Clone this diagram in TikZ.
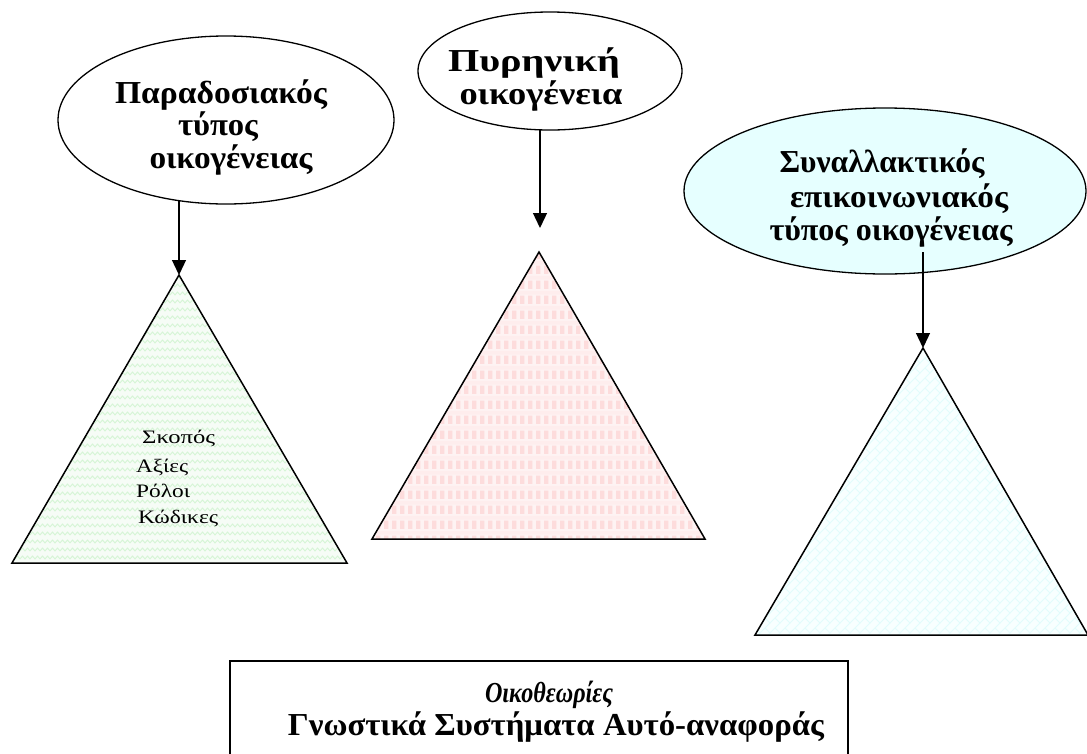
\documentclass[tikz,border=0pt]{standalone}
\usepackage{fontspec}
\usepackage{graphicx}
\setmainfont{Liberation Serif}
\usetikzlibrary{arrows.meta,patterns.meta}
\definecolor{trigreen}{HTML}{F6FCF6}
\definecolor{wavegreen}{HTML}{D6F5D6}
\definecolor{tripink}{HTML}{FEF3F3}
\definecolor{blockpink}{HTML}{FDDCDC}
\definecolor{tricyan}{HTML}{F8FFFF}
\definecolor{brickcyan}{HTML}{E2FCFC}
\definecolor{ellcyan}{HTML}{E6FFFF}
\newcommand{\fitw}[2]{\resizebox{#1pt}{\height}{#2}}
\tikzdeclarepattern{
  name=greenwave, type=colored,
  bottom left={(-1pt,-1pt)}, top right={(11pt,9pt)},
  tile size={(10pt,8pt)},
  code={
    \draw[wavegreen, line width=0.9pt] (0pt,2pt) -- (2.5pt,5pt) -- (5pt,2pt) -- (7.5pt,5pt) -- (10pt,2pt);
  }
}
\tikzdeclarepattern{
  name=pinkblocks, type=colored,
  bottom left={(0pt,0pt)}, top right={(8pt,15pt)},
  tile size={(8pt,15pt)},
  code={
    \fill[blockpink] (0pt,0pt) rectangle (5pt,9pt);
    \fill[blockpink!50] (0pt,10pt) rectangle (8pt,14pt);
  }
}
\tikzdeclarepattern{
  name=cyanbrick, type=colored,
  bottom left={(-1pt,-1pt)}, top right={(11pt,11pt)},
  tile size={(10pt,10pt)},
  code={
    \draw[brickcyan, line width=0.8pt] (0pt,0pt) -- (10pt,10pt);
    \draw[brickcyan, line width=0.8pt] (5pt,5pt) -- (10pt,0pt);
  }
}
\tikzset{
  oval/.style={draw=black, line width=1.3pt},
  tri/.style={draw=black, line width=1.5pt, line join=miter},
  conn/.style={draw=black, line width=1.3pt, -{Triangle[length=15pt,width=14pt]}},
  headA/.style={font=\fontsize{32}{32}\selectfont\bfseries, inner sep=0pt, anchor=base},
  headB/.style={font=\fontsize{32}{32}\selectfont\bfseries, inner sep=0pt, anchor=base},
  headC/.style={font=\fontsize{32}{32}\selectfont\bfseries, inner sep=0pt, anchor=base},
  small/.style={font=\fontsize{19}{19}\selectfont, inner sep=0pt, anchor=base west},
  footA/.style={font=\fontsize{29}{29}\selectfont\bfseries\itshape, inner sep=0pt, anchor=base},
  footB/.style={font=\fontsize{32}{32}\selectfont\bfseries, inner sep=0pt, anchor=base}
}
\begin{document}
\begin{tikzpicture}[x=1pt,y=-1pt]
\useasboundingbox (0,0) rectangle (1087,753);
\clip (0,0) rectangle (1087,753);
% ellipses
\draw[oval, fill=white] (226,120) ellipse [x radius=168, y radius=84];
\node[headA] (e1a) at (221,103) {\fitw{212}{Παραδοσιακός}};
\node[headA] (e1b) at (218,135) {\fitw{80}{τύπος}};
\node[headA] (e1c) at (231,168) {\fitw{163}{οικογένειας}};
\draw[oval, fill=white] (550,71) ellipse [x radius=132, y radius=59];
\node[headB] (e2a) at (534,71) {\fitw{172}{Πυρηνική}};
\node[headB] (e2b) at (541,104) {\fitw{163}{οικογένεια}};
\draw[oval, fill=ellcyan] (885,191) ellipse [x radius=201, y radius=83];
\node[headC] (e3a) at (882,172) {\fitw{205}{Συναλλακτικός}};
\node[headC] (e3b) at (899,207) {\fitw{218}{επικοινωνιακός}};
\node[headC] (e3c) at (891,240) {\fitw{243}{τύπος οικογένειας}};
% triangle apices and connector ends
\coordinate (t1a) at (179,275);
\coordinate (t2a) at (539,252);
\coordinate (t3a) at (923,348);
\coordinate (e1bot) at (179,201);
\coordinate (e2bot) at (540,130);
\coordinate (e3in) at (923,252);
\coordinate (a2end) at (540,228);
% triangles
\path[fill=trigreen] (t1a) -- (347,563) -- (12,563) -- cycle;
\path[pattern=greenwave] (t1a) -- (347,563) -- (12,563) -- cycle;
\draw[tri] (t1a) -- (347,563) -- (12,563) -- cycle;
\path[fill=tripink] (t2a) -- (705,539) -- (372,539) -- cycle;
\path[pattern=pinkblocks] (t2a) -- (705,539) -- (372,539) -- cycle;
\draw[tri] (t2a) -- (705,539) -- (372,539) -- cycle;
\path[fill=tricyan] (t3a) -- (1088,635) -- (755,635) -- cycle;
\path[pattern=cyanbrick] (t3a) -- (1088,635) -- (755,635) -- cycle;
\draw[tri] (t3a) -- (1088,635) -- (755,635) -- cycle;
% arrows
\draw[conn] (e1bot) -- (t1a);
\draw[conn] (e2bot) -- (a2end);
\draw[conn] (e3in) -- (t3a);
% triangle text
\node[small] (s1) at (142,443) {\fitw{73}{Σκοπός}};
\node[small] (s2) at (136,472) {\fitw{52}{Αξίες}};
\node[small] (s3) at (136,497) {\fitw{54}{Ρόλοι}};
\node[small] (s4) at (138,523) {\fitw{80}{Κώδικες}};
% bottom box
\draw[line width=1.5pt, fill=white] (230,661) rectangle (848,800);
\node[footA] (f1) at (549,702) {\fitw{128}{Οικοθεωρίες}};
\node[footB] (f2) at (556,735) {\fitw{536}{Γνωστικά Συστήματα Αυτό-αναφοράς}};
\end{tikzpicture}
\end{document}
